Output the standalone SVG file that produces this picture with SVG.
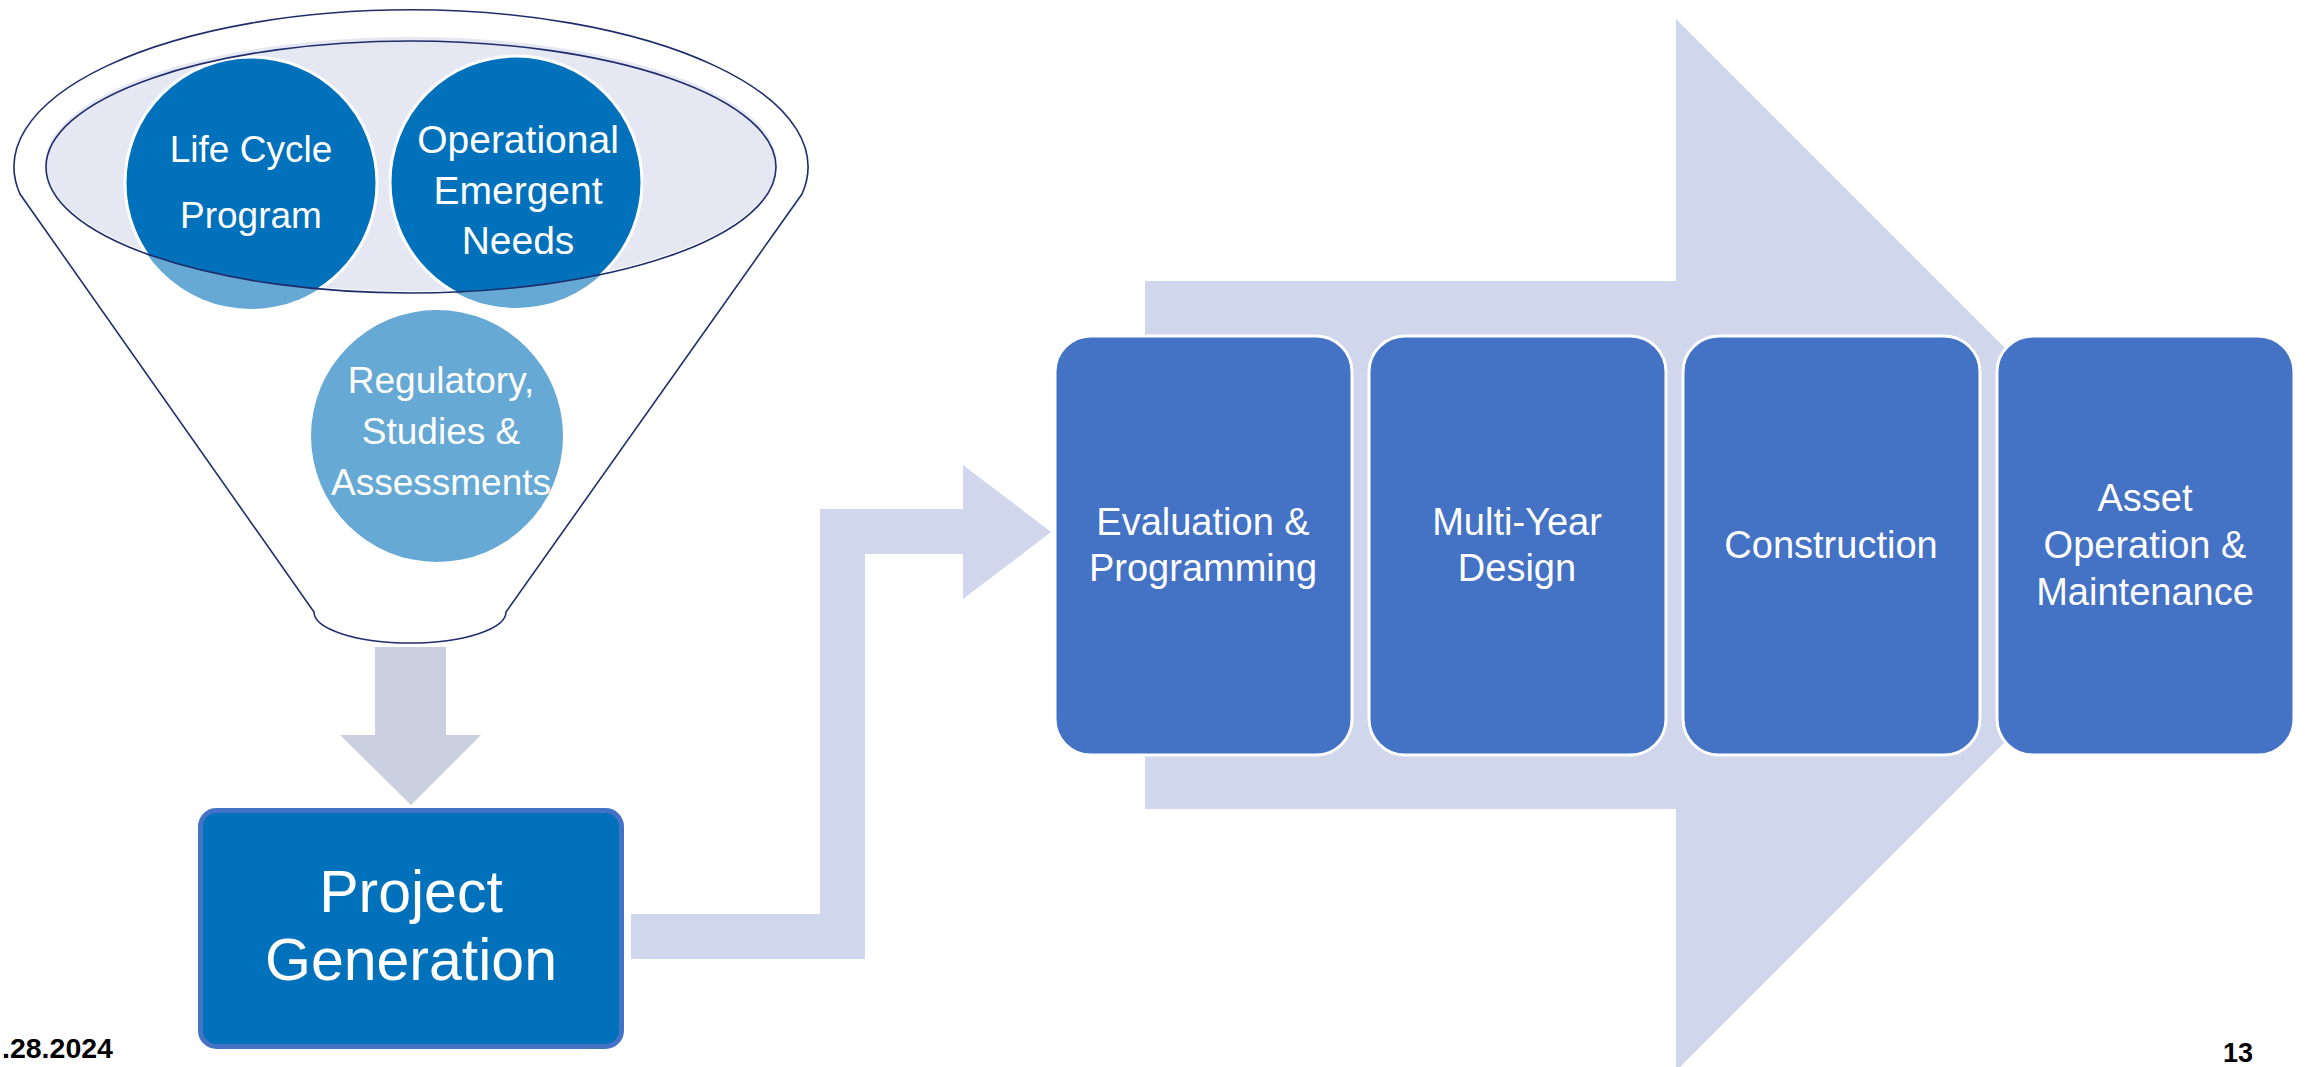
<svg xmlns="http://www.w3.org/2000/svg" width="2308" height="1067" viewBox="0 0 2308 1067">
<style>
.t{font-family:"Liberation Sans",Arial,sans-serif;fill:#fff;text-anchor:middle}
.c{font-size:37px}
.o{font-size:39px}
.b{font-size:38px}
.f{font-family:"Liberation Sans",Arial,sans-serif;font-weight:bold;fill:#000}
.box{fill:#4472C4;stroke:#fff;stroke-width:3}
.arr{fill:#D0D6EB}
</style>
<defs>
<clipPath id="ell"><ellipse cx="411" cy="167" rx="365" ry="126"/></clipPath>
</defs>
<rect width="2308" height="1067" fill="#fff"/>
<g id="connectors">
<path id="big-arrow" class="arr" d="M1145,281 L1676,281 L1676,19 L2202,545 L1676,1071 L1676,809 L1145,809 Z"/>
<path id="elbow-arrow" class="arr" d="M631,914 L820,914 L820,509 L963,509 L963,465 L1051,532 L963,599 L963,554 L865,554 L865,959 L631,959 Z"/>
<path id="down-arrow" fill="#CBD0E1" d="M375,647 L446,647 L446,735 L481,735 L411,805 L340,735 L375,735 Z"/>
</g>
<g id="funnel">
<path d="M20,194 A397,157 0 1 1 802,194 L506,612 A96,31 0 0 1 314,612 Z" fill="#fff" stroke="#1F2D6B" stroke-width="1.6"/>
<ellipse cx="411" cy="164" rx="366" ry="127" fill="#E5E8F3"/>
</g>
<g id="life-cycle">
<circle cx="251" cy="183" r="126" fill="#66A9D4"/>
<circle cx="251" cy="183" r="126" fill="#0071BA" stroke="#fff" stroke-width="3" clip-path="url(#ell)"/>
<text class="t c" x="251" y="162">Life Cycle</text>
<text class="t c" x="251" y="228">Program</text>
</g>
<g id="operational">
<circle cx="516" cy="182" r="126" fill="#66A9D4"/>
<circle cx="516" cy="182" r="126" fill="#0071BA" stroke="#fff" stroke-width="3" clip-path="url(#ell)"/>
<text class="t o" x="518" y="153">Operational</text>
<text class="t o" x="518" y="204">Emergent</text>
<text class="t o" x="518" y="254">Needs</text>
</g>
<ellipse id="funnel-rim" cx="411" cy="167" rx="365" ry="126" fill="none" stroke="#1F2D6B" stroke-width="1.6"/>
<g id="regulatory">
<circle cx="437" cy="436" r="126" fill="#66A9D4"/>
<text class="t c" x="441" y="393">Regulatory,</text>
<text class="t c" x="441" y="444">Studies &amp;</text>
<text class="t c" x="441" y="495">Assessments</text>
</g>
<g id="project-generation">
<rect x="200.5" y="810.5" width="421" height="236" rx="16" fill="#0071BA" stroke="#4472C4" stroke-width="5"/>
<text class="t" style="font-size:59px" x="411" y="912">Project</text>
<text class="t" style="font-size:59px" x="411" y="980">Generation</text>
</g>
<g id="evaluation">
<rect class="box" x="1055" y="336" width="297" height="419" rx="36"/>
<text class="t b" x="1203" y="535">Evaluation &amp;</text>
<text class="t b" x="1203" y="581">Programming</text>
</g>
<g id="design">
<rect class="box" x="1369" y="336" width="297" height="419" rx="36"/>
<text class="t b" x="1517" y="535">Multi-Year</text>
<text class="t b" x="1517" y="581">Design</text>
</g>
<g id="construction">
<rect class="box" x="1683" y="336" width="297" height="419" rx="36"/>
<text class="t b" x="1831" y="558">Construction</text>
</g>
<g id="asset">
<rect class="box" x="1997" y="336" width="297" height="419" rx="36"/>
<text class="t b" x="2145" y="511">Asset</text>
<text class="t b" x="2145" y="558">Operation &amp;</text>
<text class="t b" x="2145" y="605">Maintenance</text>
</g>
<g id="footer">
<text class="f" style="font-size:28.5px" x="2" y="1058">.28.2024</text>
<text class="f" style="font-size:27px" x="2223" y="1062">13</text>
</g>
</svg>
